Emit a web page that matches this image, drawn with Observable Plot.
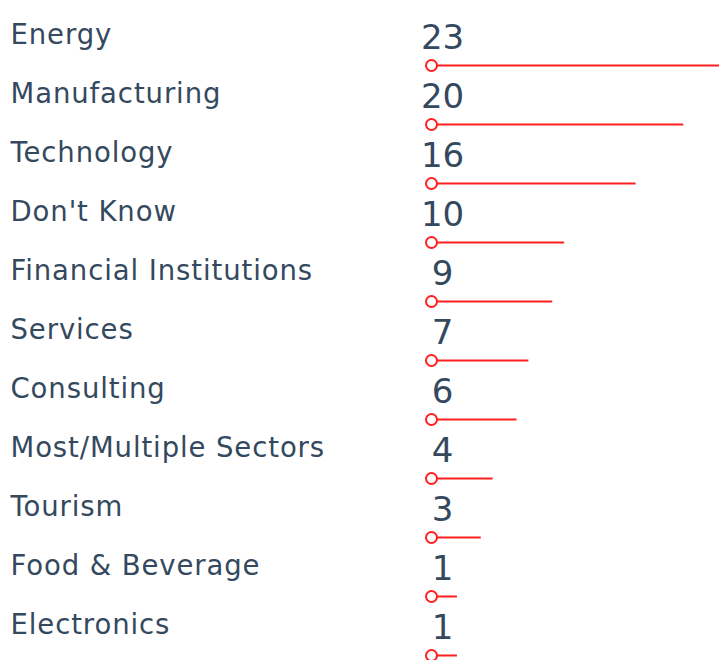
<!DOCTYPE html>
<html>
<head>
<meta charset="utf-8">
<script src="https://cdn.jsdelivr.net/npm/d3@7"></script>
<script src="https://cdn.jsdelivr.net/npm/@observablehq/plot@0.6"></script>
<style>
  html, body { margin: 0; padding: 0; background: #fff; }
  svg text.lbl { letter-spacing: 0.9px; }
</style>
</head>
<body>
<div id="chart"></div>
<script>
const categories = ["Energy", "Manufacturing", "Technology", "Don't Know", "Financial Institutions", "Services", "Consulting", "Most/Multiple Sectors", "Tourism", "Food & Beverage", "Electronics"];
const values = [23, 20, 16, 10, 9, 7, 6, 4, 3, 1, 1];

const data = categories.map((c, i) => ({category: c, value: values[i]}));
const textColor = "#34495e";
const red = "#ff1f1f";
const font = "DejaVu Sans";

const chart = Plot.plot({
  width: 719,
  height: 660,
  marginTop: 61,
  marginBottom: 1,
  marginLeft: 0,
  marginRight: 0,
  x: {domain: [0, 23], range: [445, 719], axis: null},
  y: {type: "point", domain: categories, padding: 0, axis: null},
  marks: [
    Plot.ruleY(data, {y: "category", x1: 0, x2: "value", stroke: red, strokeWidth: 2, insetLeft: -14}),
    Plot.dot(data, {x: 0, y: "category", dx: -14, r: 5.5, fill: "white", stroke: red, strokeWidth: 2}),
    Plot.text(data, {y: "category", text: "category", frameAnchor: "left", dx: 10, dy: -30, textAnchor: "start", lineAnchor: "middle", fill: textColor, fontSize: 27.5, fontFamily: font, className: "lbl"}),
    Plot.text(data, {x: 0, y: "category", text: d => String(d.value), dx: -3, dy: -17, textAnchor: "middle", lineAnchor: "bottom", fill: textColor, fontSize: 34, fontFamily: font})
  ]
});
chart.querySelectorAll("g[aria-label=text]").forEach((g, i) => { if (i === 0) g.querySelectorAll("text").forEach(t => t.classList.add("lbl")); });
document.getElementById("chart").appendChild(chart);
</script>
</body>
</html>
